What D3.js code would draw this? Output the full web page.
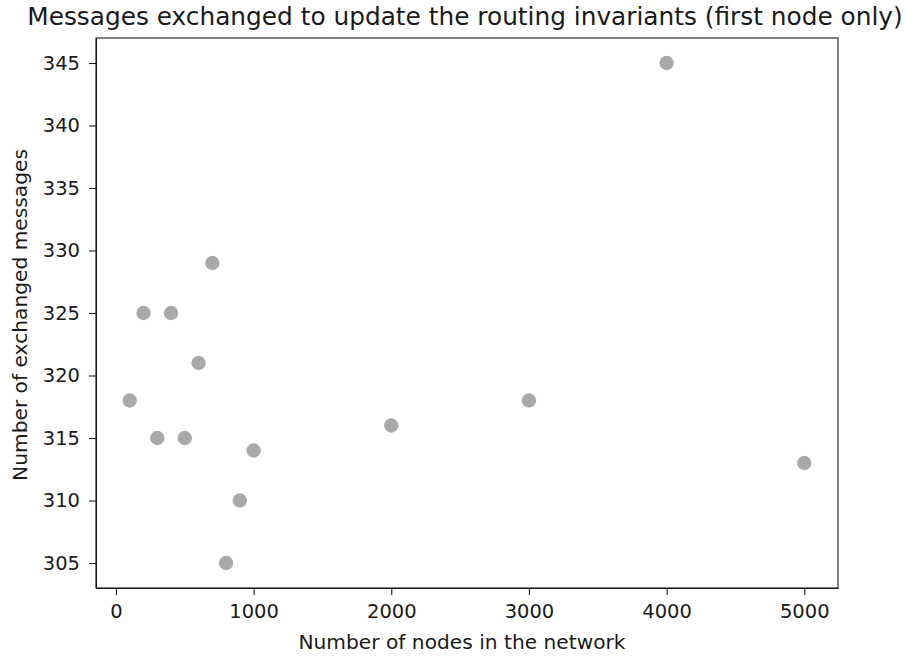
<!DOCTYPE html>
<html lang="en">
<head>
	<meta charset="UTF-8"/>
	<title>Messages exchanged scatter</title>
	<script src="https://d3js.org/d3.v7.min.js"></script>
	<style>
		body { margin: 0; background: #fff; }
		text { font-family: "DejaVu Sans", sans-serif; fill: #1a1a1a; }
		.domain, .tick line { stroke: #1a1a1a; stroke-width: 1.1; }
	</style>
</head>
<body>
	<div id="chart"></div>
	<script>
	var w = 906;
	var h = 656;

	// nodes in the network and messages exchanged
	var nodes = [100, 200, 300, 400, 500, 600, 700, 800, 900, 1000, 2000, 3000, 4000, 5000];
	var messages = [318, 325, 315, 325, 315, 321, 329, 305, 310, 314, 316, 318, 345, 313];
	var xTicks = [0, 1000, 2000, 3000, 4000, 5000];
	var yTicks = [305, 310, 315, 320, 325, 330, 335, 340, 345];

	var mLeft = 96, mRight = 838, mTop = 38, mBottom = 588;

	var svg = d3.select("#chart")
				.append("svg")
				.attr("width", w)
				.attr("height", h);

	var xScale = d3.scaleLinear()
					.domain([-145, 5245])
					.range([mLeft, mRight]);
	var yScale = d3.scaleLinear()
					.domain([303, 347])
					.range([mBottom, mTop]);

	svg.append("g")
		.selectAll("circle")
		.data(nodes)
		.enter()
		.append("circle")
		.attr("cx", function(d){ return xScale(d); })
		.attr("cy", function(d, i){ return yScale(messages[i]); })
		.attr("r", 7.2)
		.attr("fill", "#a9a9a9");

	var xAxis = d3.axisBottom(xScale)
					.tickValues(xTicks)
					.tickFormat(d3.format("d"))
					.tickSize(7)
					.tickPadding(9)
					.tickSizeOuter(0);
	var yAxis = d3.axisLeft(yScale)
					.tickValues(yTicks)
					.tickFormat(d3.format("d"))
					.tickSize(7)
					.tickPadding(9)
					.tickSizeOuter(0);

	svg.append("g")
		.attr("transform", "translate(0," + mBottom + ")")
		.call(xAxis);
	svg.append("g")
		.attr("transform", "translate(" + mLeft + ",0)")
		.call(yAxis);
	svg.selectAll(".tick text").style("font-size", "19.5px");

	// box
	svg.append("rect")
		.attr("x", mLeft)
		.attr("y", mTop)
		.attr("width", mRight - mLeft)
		.attr("height", mBottom - mTop)
		.attr("fill", "none")
		.attr("stroke", "#1a1a1a")
		.attr("stroke-width", 1.1);

	svg.append("text")
		.attr("x", 465)
		.attr("y", 25)
		.attr("text-anchor", "middle")
		.style("font-size", "24.8px")
		.text("Messages exchanged to update the routing invariants (first node only)");

	svg.append("text")
		.attr("x", 462)
		.attr("y", 649)
		.attr("text-anchor", "middle")
		.style("font-size", "20.2px")
		.text("Number of nodes in the network");

	svg.append("text")
		.attr("transform", "translate(27,315) rotate(-90)")
		.attr("text-anchor", "middle")
		.style("font-size", "20.2px")
		.text("Number of exchanged messages");
	</script>
</body>
</html>
